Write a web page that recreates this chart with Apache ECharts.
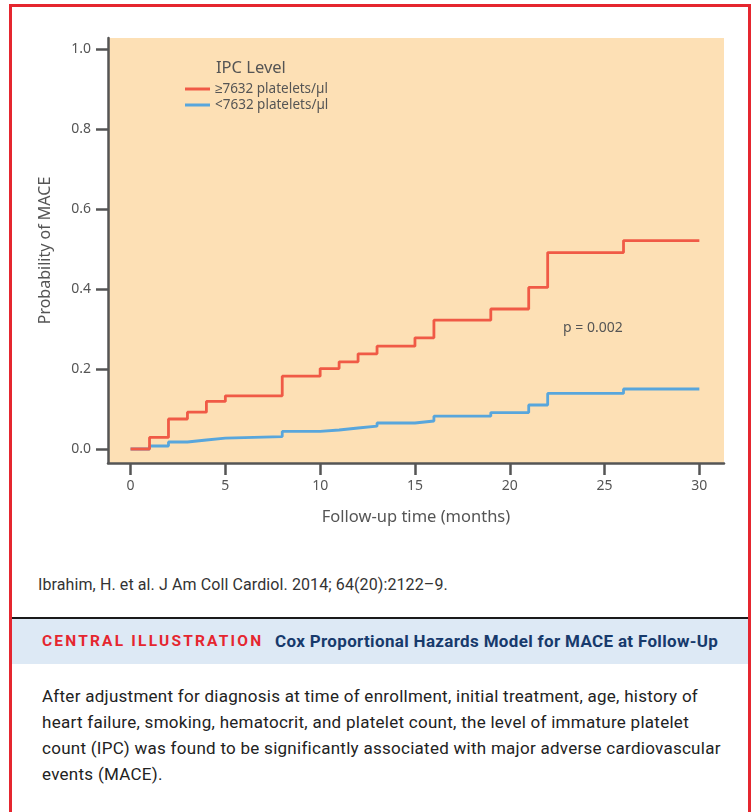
<!DOCTYPE html>
<html>
<head>
<meta charset="utf-8">
<script src="https://cdn.jsdelivr.net/npm/echarts@6/dist/echarts.min.js"></script>
<style>
  html, body { margin: 0; padding: 0; background: #fff; }
  #page { position: relative; width: 755px; height: 812px; overflow: hidden; font-family: "Noto Sans", sans-serif; }
  #chart { position: absolute; left: 0; top: 0; width: 755px; height: 560px; }
  #frame { position: absolute; left: 9px; top: 4px; width: 736px; height: 806px;
           border: 3px solid #e5262f; border-bottom-color: #f3a3aa; border-bottom-width: 2px; pointer-events: none; }
  #cite { position: absolute; left: 38px; top: 576px; font-size: 16px; letter-spacing: 0.1px; line-height: 18px; color: #333;
          font-family: "Roboto", sans-serif; }
  #rule { position: absolute; left: 12px; top: 617px; width: 736px; height: 2px; background: #1a1a1a; }
  #band { position: absolute; left: 12px; top: 619px; width: 736px; height: 45px; background: #dde9f5; }
  #band .tag { position: absolute; left: 30px; top: 13px; font-size: 15.5px; font-weight: bold; letter-spacing: 2.2px;
               color: #e5262f; font-family: "Roboto", sans-serif; line-height: 18px; }
  #band .ttl { position: absolute; left: 263px; top: 12px; font-size: 17px; font-weight: bold; letter-spacing: 0.33px; color: #173a6c;
               font-family: "Roboto", sans-serif; line-height: 20px; }
  #para { position: absolute; left: 42px; top: 683px; font-size: 17px; letter-spacing: 0.27px; line-height: 26px; color: #222;
          font-family: "Roboto", sans-serif; }
</style>
</head>
<body>
<div id="page">
  <div id="chart"></div>
  <div id="cite">Ibrahim, H. et al. J Am Coll Cardiol. 2014; 64(20):2122–9.</div>
  <div id="rule"></div>
  <div id="band"><span class="tag">CENTRAL ILLUSTRATION</span><span class="ttl">Cox Proportional Hazards Model for MACE at Follow-Up</span></div>
  <div id="para">After adjustment for diagnosis at time of enrollment, initial treatment, age, history of<br>heart failure, smoking, hematocrit, and platelet count, the level of immature platelet<br>count (IPC) was found to be significantly associated with major adverse cardiovascular<br>events (MACE).</div>
  <div id="frame"></div>
</div>
<script>
// follow-up months where a step happens (shared by both groups)
const months = [0, 1, 2, 3, 4, 5, 8, 10, 11, 12, 13, 15, 16, 19, 21, 22, 26, 30];
// cumulative probability of MACE
const highIpc = [0, 0.029, 0.075, 0.092, 0.119, 0.133, 0.182, 0.201, 0.218, 0.238, 0.257, 0.278, 0.322, 0.35, 0.404, 0.491, 0.521, 0.521];
const lowIpc = [0, 0.0075, 0.0175, 0.0225, 0.027, 0.031, 0.044, 0.0475, 0.0525, 0.057, 0.065, 0.07, 0.082, 0.091, 0.11, 0.139, 0.15, 0.15];
const seriesNames = ['≥7632 platelets/µl', '<7632 platelets/µl'];
const xTicks = [0, 5, 10, 15, 20, 25, 30];
const yTicks = [0, 0.2, 0.4, 0.6, 0.8, 1.0];

const axisColor = '#555';
const textColor = '#555';
const font = '"Noto Sans", sans-serif';

const chart = echarts.init(document.getElementById('chart'), null, { renderer: 'canvas' });

function pairs(ys) {
  return months.map((m, i) => [m, ys[i]]);
}

chart.setOption({
  animation: false,
  textStyle: { fontFamily: font },
  title: {
    text: 'IPC Level',
    left: 216, top: 60, padding: 0,
    textStyle: { fontSize: 16.5, fontWeight: 'normal', color: textColor, fontFamily: font }
  },
  legend: {
    orient: 'vertical',
    left: 185, top: 82, padding: 0,
    itemWidth: 25, itemHeight: 3, itemGap: 2,
    icon: 'rect',
    selectedMode: false,
    textStyle: { fontSize: 13.5, color: textColor, padding: [0, 0, 0, 0] },
    data: seriesNames
  },
  grid: { left: 108, top: 38, width: 616, height: 425, show: true, backgroundColor: '#fde0b5', borderWidth: 0 },
  xAxis: {
    type: 'value',
    min: -1.19, max: 31.3,
    name: 'Follow-up time (months)',
    nameLocation: 'middle',
    nameGap: 46,
    nameTextStyle: { fontSize: 16.5, color: textColor },
    axisLine: { show: true, onZero: false, lineStyle: { color: axisColor, width: 2.5 } },
    axisTick: { show: true, length: 12, customValues: xTicks, lineStyle: { color: axisColor, width: 2.5 } },
    axisLabel: { customValues: xTicks, margin: 16, fontSize: 14, color: textColor },
    splitLine: { show: false }
  },
  yAxis: {
    type: 'value',
    min: -0.035, max: 1.0275,
    name: 'Probability of MACE',
    nameLocation: 'middle',
    nameGap: 55,
    nameTextStyle: { fontSize: 16, color: textColor },
    axisLine: { show: true, onZero: false, lineStyle: { color: axisColor, width: 2.5 } },
    axisTick: { show: true, length: 12, customValues: yTicks, lineStyle: { color: axisColor, width: 2.5 } },
    axisLabel: { customValues: yTicks, margin: 17, fontSize: 14, color: textColor, formatter: v => v.toFixed(1) },
    splitLine: { show: false }
  },
  graphic: [{
    type: 'text', left: 563, top: 321,
    style: { text: 'p = 0.002', fontSize: 14, fill: textColor, fontFamily: font }
  }],
  series: [
    {
      name: seriesNames[0], type: 'line', step: 'end', data: pairs(highIpc),
      showSymbol: false, z: 3, color: '#f05a46',
      lineStyle: { width: 2.8, color: '#f05a46' }
    },
    {
      name: seriesNames[1], type: 'line', step: 'end', data: pairs(lowIpc),
      showSymbol: false, z: 2, color: '#58a6dc',
      lineStyle: { width: 2.8, color: '#58a6dc' }
    }
  ]
});
window.addEventListener('resize', () => chart.resize());
</script>
</body>
</html>
